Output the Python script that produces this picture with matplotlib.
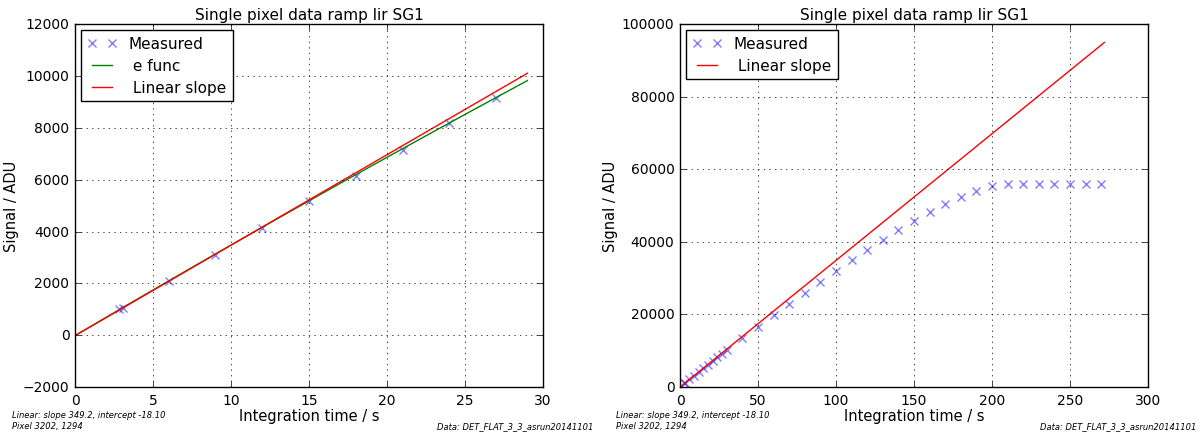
import matplotlib
matplotlib.use('Agg')
import matplotlib.pyplot as plt
import numpy as np

plt.style.use('classic')

# measured ramp (integration time in s, signal in ADU)
t_left = [2.8, 3.05, 6, 9, 12, 15, 18, 21, 24, 27]
sig_left = [1000, 1060, 2090, 3110, 4130, 5170, 6150, 7150, 8180, 9170]

t_right = [2.8, 3.05, 6, 9, 12, 15, 18, 21, 24, 27, 30,
           40, 50, 60, 70, 80, 90, 100, 110, 120, 130, 140, 150,
           160, 170, 180, 190, 200, 210, 220, 230, 240, 250, 260, 270]
sig_right = [1000, 1060, 2090, 3110, 4130, 5170, 6150, 7150, 8180, 9170, 10100,
             13430, 16650, 19870, 23000, 25850, 28980, 32100, 34960, 37800,
             40480, 43240, 45720, 48120, 50320, 52440, 54100, 55380,
             55840, 55840, 55840, 55840, 55840, 55840, 55840]

# fit parameters
slope = 349.2
intercept = -18.10
efunc_amp = 113600.0
efunc_tau = 320.0

title = 'Single pixel data ramp lir SG1'
info = 'Linear: slope 349.2, intercept -18.10\nPixel 3202, 1294'
data_txt = 'Data: DET_FLAT_3_3_asrun20141101'

fig = plt.figure(figsize=(12.04, 4.35), dpi=100, facecolor='white')
ax1 = fig.add_axes([0.0623, 0.108, 0.3887, 0.834])
ax2 = fig.add_axes([0.5648, 0.108, 0.3887, 0.834])

# left panel
tl = np.linspace(0, max(t_left) + 2, 100)
ax1.plot(t_left, sig_left, 'bx', alpha=0.5, mew=1, ms=6, label='Measured')
ax1.plot(tl, efunc_amp * (1 - np.exp(-tl / efunc_tau)) + intercept, 'g-', label=' e func')
ax1.plot(tl, slope * tl + intercept, 'r-', label=' Linear slope')
ax1.set_xlim(0, 30)
ax1.set_ylim(-2000, 12000)

# right panel
tr = np.linspace(0, max(t_right) + 2, 100)
ax2.plot(t_right, sig_right, 'bx', alpha=0.5, mew=1, ms=6, label='Measured')
ax2.plot(tr, slope * tr + intercept, 'r-', label=' Linear slope')
ax2.set_xlim(0, 300)
ax2.set_ylim(0, 100000)

for ax in (ax1, ax2):
    ax.set_title(title, fontsize=11, pad=4)
    ax.set_xlabel('Integration time / s', fontsize=10.5, labelpad=1)
    ax.set_ylabel('Signal / ADU', fontsize=10.5, labelpad=3)
    ax.grid(True)
    ax.tick_params(labelsize=10)
    leg = ax.legend(loc='upper left', numpoints=2, fontsize=11, fancybox=False,
                    handlelength=1.9, labelspacing=0.45, borderaxespad=0.4)
    leg.get_frame().set_linewidth(1)

fig.text(0.01, 0.01, info, fontsize=6, style='italic', ha='left', va='bottom')
fig.text(0.493, 0.01, data_txt, fontsize=6, style='italic', ha='right', va='bottom')
fig.text(0.512, 0.01, info, fontsize=6, style='italic', ha='left', va='bottom')
fig.text(0.994, 0.01, data_txt, fontsize=6, style='italic', ha='right', va='bottom')

fig.savefig('out.png', dpi=100, facecolor='white')
